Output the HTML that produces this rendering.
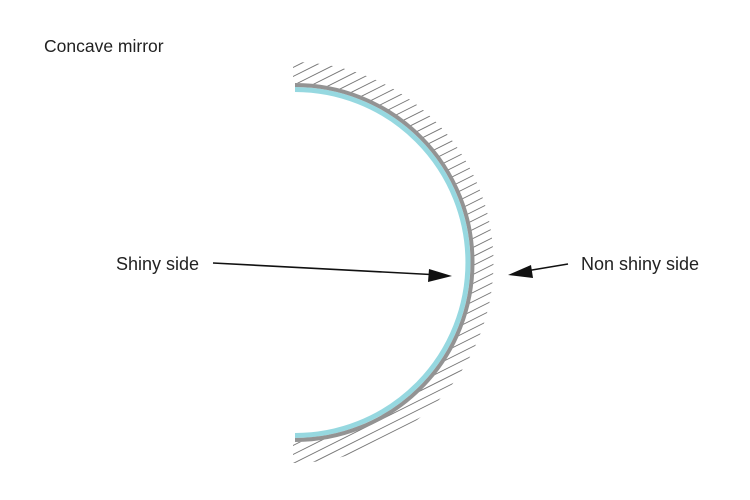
<!DOCTYPE html>
<html><head><style>html,body{margin:0;background:#fff;overflow:hidden;width:750px;height:500px}svg{display:block}</style></head><body>
<svg width="750" height="500" viewBox="0 0 750 500" xmlns="http://www.w3.org/2000/svg" font-family="Liberation Sans, sans-serif">
<defs>
<clipPath id="c"><path d="M293 62 A200 200 0 0 1 293 463 L293 442 A179 179 0 0 0 293 83 Z"/></clipPath>
</defs>
<text x="44" y="52" font-size="17.5" fill="#222">Concave mirror</text>
<g id="h" clip-path="url(#c)" stroke="#777" stroke-width="1"></g>
<path d="M295 89.5 A173 173 0 0 1 295 435.5" fill="none" stroke="#96d8e0" stroke-width="5"/>
<path d="M295 85 A177.5 177.5 0 0 1 295 440" fill="none" stroke="#939393" stroke-width="4"/>
<line x1="213" y1="263" x2="440" y2="275" stroke="#111" stroke-width="1.6"/>
<path d="M452 276 L428 282 L429 269 Z" fill="#111"/>
<line x1="568" y1="264" x2="520" y2="272" stroke="#111" stroke-width="1.6"/>
<path d="M508 275 L531 265 L533 278 Z" fill="#111"/>
<text x="116" y="270" font-size="18" fill="#222">Shiny side</text>
<text x="581" y="270" font-size="18" fill="#222">Non shiny side</text>
</svg>
<script>
var g=document.getElementById('h'),s='';
for(var c=-120;c<400;c+=9){s+='<line x1="280" y1="'+(c+140)+'" x2="520" y2="'+(c+140-120)+'"/>';}
g.innerHTML=s;
</script>
</body></html>
